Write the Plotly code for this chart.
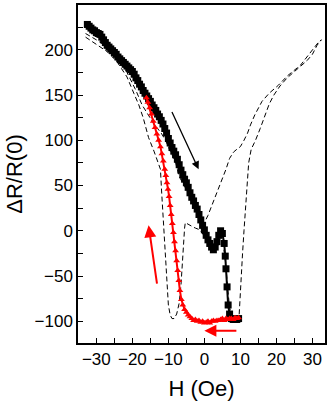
import plotly.graph_objects as go

# Black squares: sweep from negative to positive field
black_h = [-32.5,-32.0,-31.5,-31.0,-30.5,-30.0,-29.5,-29.0,-28.5,-28.0,-27.5,-27.0,-26.5,-26.0,-25.5,-25.0,
           -24.5,-24.0,-23.5,-23.0,-22.5,-22.0,-21.5,-21.0,-20.5,-20.0,-19.5,-19.0,-18.5,-18.0,-17.5,-17.0,
           -16.5,-16.0,-15.5,-15.0,-14.5,-14.0,-13.5,-13.0,-12.5,-12.0,-11.5,-11.0,-10.5,-10.0,-9.5,-9.0,
           -8.5,-8.0,-7.5,-7.0,-6.5,-6.0,-5.5,-5.0,-4.5,-4.0,-3.5,-3.0,-2.5,-2.0,-1.5,-1.0,-0.5,0.0,
           0.5,1.0,1.5,2.0,2.5,3.0,3.5,4.0,4.5,5.0,5.5,5.8,6.0,6.3,6.6,7.0,7.5,8.0,8.5,9.0,9.5]
black_r = [228,226,224,222,221,219,218,217,214,211,208,205,203,201,199,197,
           195,192,190,188,186,184,182,180,178,176,173,169,166,162,159,155,
           152,149,146,143,139,136,133,129,126,122,118,113,108,102,97,92,
           88,84,79,73,67,62,57,53,48,42,37,33,28,24,18,12,6,1,
           -5,-10,-14,-18,-21,-18,-12,-5,0,-3,-14,-28,-42,-62,-82,-92,-97,-98,-98,-98,-97]

# Red triangles: sweep back from positive to negative field
red_h = [9.5,9.0,8.5,8.0,7.5,7.0,6.5,6.0,5.5,5.0,4.5,4.0,3.5,3.0,2.5,2.0,1.5,1.0,0.5,0.0,
         -0.5,-1.0,-1.5,-2.0,-2.5,-3.0,-3.5,-4.0,-4.5,-5.0,-5.5,-6.0,-6.4,-6.8,-7.1,-7.4,-7.7,
         -8.0,-8.3,-8.6,-8.9,-9.2,-9.5,-9.8,-10.1,-10.4,-10.7,-11.0,-11.4,-11.8,-12.2,-12.7,
         -13.2,-13.7,-14.2,-14.7,-15.2,-15.7,-16.1]
red_r = [-96,-97,-96,-98,-97,-97,-98,-97,-99,-97,-98,-99,-99,-100,-99,-100,-102,-100,-101,-102,
         -100,-101,-99,-100,-98,-99,-97,-95,-93,-90,-87,-82,-76,-66,-55,-44,-33,
         -22,-12,-2,8,18,28,38,46,53,61,68,77,85,93,100,
         107,114,121,129,136,142,147]

# Dashed reference loop: inner (V-shaped) branch
dash1_h = [-33,-30,-27,-24,-21.5,-19,-17.3,-15,-14,-12,-10.8,-9.5,-8.1,-7,-5.7,-4.5,-3,-1.1,0,
           1,2,3.1,4.5,6,7,8.1,9,10,11,12,12.8,14,16,18,20.6,23,26.7,29,31.8,32.5]
dash1_r = [218,211,203,192,175,155,139,125,118,108,100,88,77,60,50,42,31,13,9,
           17,27,39,52,68,80,87,90,93,100,108,117,128,143,152,161,171,183,195,209,211]

# Dashed reference loop: outer branch
dash2_h = [-33,-30,-27,-24.3,-21.5,-19.6,-18.2,-17,-15.5,-14,-12.8,-12.2,-11.9,-11.6,-11.2,-10.8,
           -10.4,-10,-9.5,-9,-8.4,-7.7,-7,-6.5,-6.1,-5.8,-5.5,-5.3,-4.5,-3.5,-2.5,-1.2,0,1,2,3,4,
           4.8,5.4,5.9,6.4,7,7.8,8.8,9.6,9.8,10.2,10.6,11,11.4,11.8,12.3,13,14.2,15.5,16.9,18,
           19.3,21,23,24.8,26.7,28.5,30,31.3,32.5]
dash2_r = [214,206,198,187,170,152,139,125,103,88,76,68,45,25,0,-30,
           -60,-82,-93,-97,-97,-92,-80,-60,-35,-12,3,9,7,5,3,1,-6,-12,-17,-19,-15,
           -12,-20,-35,-60,-85,-96,-98,-97,-80,-50,-25,0,25,45,75,90,100,113,128,140,
           150,160,169,175,181,188,195,205,211]

x_ticks = [-30, -20, -10, 0, 10, 20, 30]
y_ticks = [-100, -50, 0, 50, 100, 150, 200]

fig = go.Figure()
fig.add_trace(go.Scatter(x=dash1_h, y=dash1_r, mode="lines",
                         line=dict(color="black", width=1, dash="5px,3px"), showlegend=False))
fig.add_trace(go.Scatter(x=dash2_h, y=dash2_r, mode="lines",
                         line=dict(color="black", width=1, dash="5px,3px"), showlegend=False))
fig.add_trace(go.Scatter(x=black_h, y=black_r, mode="lines+markers",
                         line=dict(color="black", width=2),
                         marker=dict(symbol="square", size=7, color="black"), showlegend=False))
fig.add_trace(go.Scatter(x=red_h, y=red_r, mode="lines+markers",
                         line=dict(color="red", width=2),
                         marker=dict(symbol="triangle-up", size=6, color="red"), showlegend=False))

arrows = [
    dict(x=-1.6, y=68, ax=-9.2, ay=133, color="black", w=1.3),
    dict(x=-15.5, y=6, ax=-13.1, ay=-60, color="red", w=2),
    dict(x=0, y=-110.5, ax=9.3, ay=-110.5, color="red", w=2),
]
for a in arrows:
    fig.add_annotation(x=a["x"], y=a["y"], ax=a["ax"], ay=a["ay"], xref="x", yref="y",
                       axref="x", ayref="y", showarrow=True, arrowhead=2, arrowsize=1.2,
                       arrowwidth=a["w"], arrowcolor=a["color"], text="")

axis_common = dict(showgrid=False, zeroline=False, showline=True, linecolor="black",
                   linewidth=1.5, mirror=True, ticks="inside", ticklen=5, tickwidth=1.2,
                   tickcolor="black", tickfont=dict(family="Liberation Sans, Arial", size=17, color="black"))

fig.update_xaxes(range=[-35.1, 33.5], tickvals=x_ticks,
                 minor=dict(ticks="inside", ticklen=5, dtick=5, tick0=0, tickcolor="black", tickwidth=1.2),
                 title=dict(text="H (Oe)", font=dict(family="Liberation Sans, Arial", size=22, color="black"),
                            standoff=12),
                 **axis_common)
fig.update_yaxes(range=[-124, 249.5], tickvals=y_ticks,
                 minor=dict(ticks="inside", ticklen=5, dtick=25, tick0=0, tickcolor="black", tickwidth=1.2),
                 title=dict(text="ΔR/R(0)", font=dict(family="Liberation Sans, Arial", size=22, color="black"),
                            standoff=6),
                 **axis_common)

fig.update_layout(width=335, height=408, margin=dict(l=78, r=10, t=3, b=65),
                  plot_bgcolor="white", paper_bgcolor="white", showlegend=False)

fig.write_html("out.html")
